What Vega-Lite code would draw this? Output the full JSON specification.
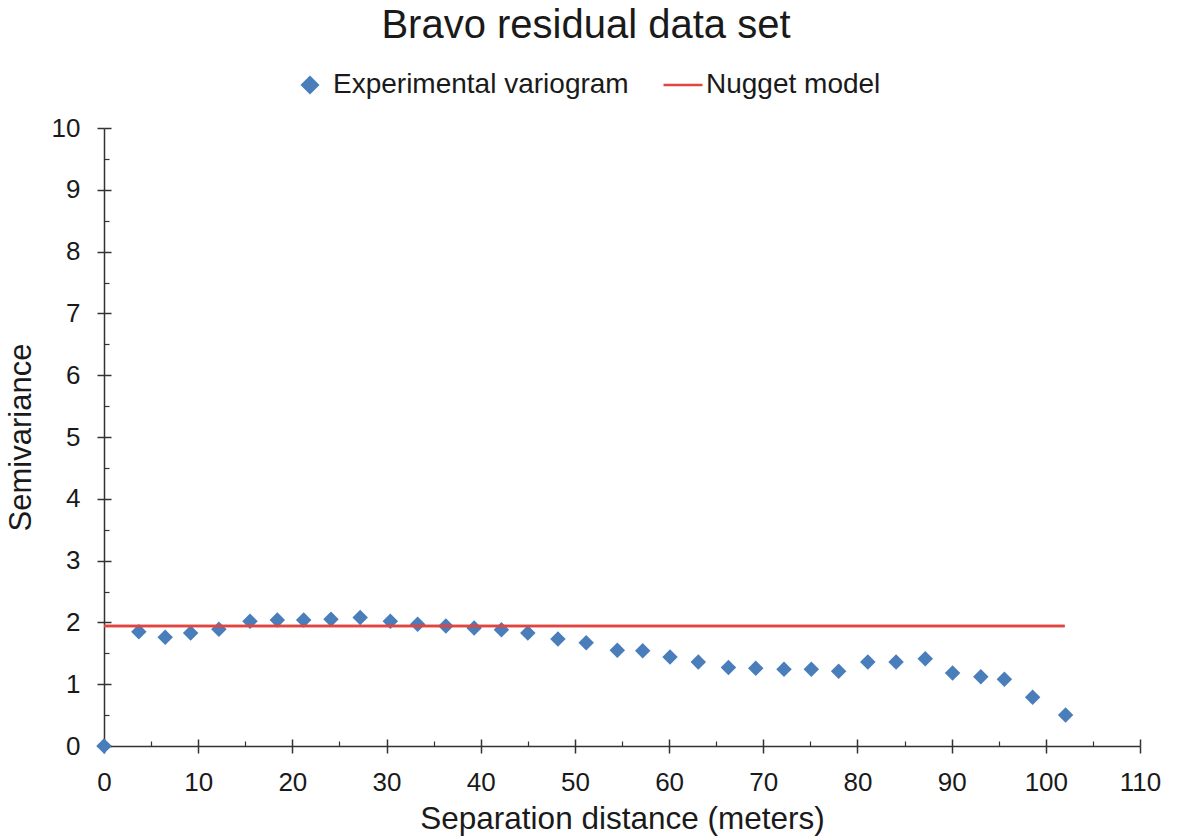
{
  "$schema": "https://vega.github.io/schema/vega-lite/v6.json",
  "width": 1036,
  "height": 618,
  "autosize": "none",
  "padding": {"left": 104, "top": 128, "right": 37, "bottom": 93},
  "background": "white",
  "config": {
    "font": "Liberation Sans",
    "view": {"stroke": null},
    "axis": {"grid": false}
  },
  "title": {
    "text": "Bravo residual data set",
    "fontSize": 40,
    "fontWeight": "normal",
    "color": "#1a1a1a",
    "anchor": "middle",
    "frame": "group",
    "dx": -36,
    "offset": 25
  },
  "datasets": {
    "experimental": [
      {"distance": 0, "semivariance": 0, "series": "Experimental variogram"},
      {"distance": 3.7, "semivariance": 1.85, "series": "Experimental variogram"},
      {"distance": 6.5, "semivariance": 1.76, "series": "Experimental variogram"},
      {"distance": 9.2, "semivariance": 1.83, "series": "Experimental variogram"},
      {"distance": 12.2, "semivariance": 1.89, "series": "Experimental variogram"},
      {"distance": 15.5, "semivariance": 2.02, "series": "Experimental variogram"},
      {"distance": 18.4, "semivariance": 2.04, "series": "Experimental variogram"},
      {"distance": 21.2, "semivariance": 2.04, "series": "Experimental variogram"},
      {"distance": 24.1, "semivariance": 2.05, "series": "Experimental variogram"},
      {"distance": 27.2, "semivariance": 2.08, "series": "Experimental variogram"},
      {"distance": 30.4, "semivariance": 2.02, "series": "Experimental variogram"},
      {"distance": 33.3, "semivariance": 1.97, "series": "Experimental variogram"},
      {"distance": 36.3, "semivariance": 1.94, "series": "Experimental variogram"},
      {"distance": 39.3, "semivariance": 1.91, "series": "Experimental variogram"},
      {"distance": 42.2, "semivariance": 1.88, "series": "Experimental variogram"},
      {"distance": 45.0, "semivariance": 1.83, "series": "Experimental variogram"},
      {"distance": 48.2, "semivariance": 1.73, "series": "Experimental variogram"},
      {"distance": 51.2, "semivariance": 1.67, "series": "Experimental variogram"},
      {"distance": 54.5, "semivariance": 1.55, "series": "Experimental variogram"},
      {"distance": 57.2, "semivariance": 1.54, "series": "Experimental variogram"},
      {"distance": 60.1, "semivariance": 1.44, "series": "Experimental variogram"},
      {"distance": 63.1, "semivariance": 1.36, "series": "Experimental variogram"},
      {"distance": 66.3, "semivariance": 1.27, "series": "Experimental variogram"},
      {"distance": 69.2, "semivariance": 1.26, "series": "Experimental variogram"},
      {"distance": 72.2, "semivariance": 1.24, "series": "Experimental variogram"},
      {"distance": 75.1, "semivariance": 1.24, "series": "Experimental variogram"},
      {"distance": 78.0, "semivariance": 1.21, "series": "Experimental variogram"},
      {"distance": 81.1, "semivariance": 1.36, "series": "Experimental variogram"},
      {"distance": 84.1, "semivariance": 1.36, "series": "Experimental variogram"},
      {"distance": 87.2, "semivariance": 1.41, "series": "Experimental variogram"},
      {"distance": 90.1, "semivariance": 1.18, "series": "Experimental variogram"},
      {"distance": 93.1, "semivariance": 1.12, "series": "Experimental variogram"},
      {"distance": 95.6, "semivariance": 1.08, "series": "Experimental variogram"},
      {"distance": 98.6, "semivariance": 0.79, "series": "Experimental variogram"},
      {"distance": 102.1, "semivariance": 0.5, "series": "Experimental variogram"}
    ],
    "nugget": [
      {"distance": 0, "semivariance": 1.94, "series": "Nugget model"},
      {"distance": 102, "semivariance": 1.94, "series": "Nugget model"}
    ]
  },
  "encoding": {
    "color": {
      "field": "series",
      "type": "nominal",
      "scale": {"domain": ["Experimental variogram", "Nugget model"], "range": ["#4a7ebb", "#e0463f"]},
      "legend": {
        "orient": "none",
        "legendX": 192,
        "legendY": -57,
        "direction": "horizontal",
        "title": null,
        "padding": 0,
        "symbolSize": 1521,
        "labelOffset": 9,
        "columnPadding": 29,
        "labelFontSize": 28,
        "labelColor": "#1a1a1a",
        "labelLimit": 0,
        "encode": {
          "symbols": {
            "update": {
              "shape": {"signal": "datum.value === 'Nugget model' ? 'stroke' : 'diamond'"},
              "size": {"signal": "datum.value === 'Nugget model' ? 1521 : 240"},
              "fill": {"signal": "datum.value === 'Nugget model' ? 'transparent' : '#4a7ebb'"},
              "stroke": {"signal": "datum.value === 'Nugget model' ? '#e0463f' : 'transparent'"},
              "strokeWidth": {"value": 2.5},
              "opacity": {"value": 1}
            }
          }
        }
      }
    }
  },
  "resolve": {"axis": {"x": "independent", "y": "independent"}},
  "layer": [
    {
      "data": {"name": "experimental"},
      "mark": {"type": "point", "shape": "diamond", "filled": true, "size": 240, "opacity": 1, "clip": false},
      "encoding": {
        "x": {
          "field": "distance", "type": "quantitative",
          "scale": {"domain": [0, 110], "nice": false, "zero": false},
          "axis": {
            "orient": "bottom",
            "title": "Separation distance (meters)",
            "titleFontSize": 31.5,
            "titleFontWeight": "normal",
            "titleColor": "#1a1a1a",
            "titlePadding": 8,
            "values": [0, 10, 20, 30, 40, 50, 60, 70, 80, 90, 100, 110],
            "labelFontSize": 26,
            "labelColor": "#1a1a1a",
            "labelPadding": 16,
            "labelFlush": false,
            "labelOverlap": false,
            "tickSize": 7,
            "tickColor": "#333333",
            "tickWidth": 1.5,
            "domainColor": "#333333",
            "domainWidth": 1.5
          }
        },
        "y": {
          "field": "semivariance", "type": "quantitative",
          "scale": {"domain": [0, 10], "nice": false, "zero": false},
          "axis": {
            "orient": "left",
            "title": "Semivariance",
            "titleFontSize": 31,
            "titleFontWeight": "normal",
            "titleColor": "#1a1a1a",
            "titlePadding": 14,
            "values": [0, 1, 2, 3, 4, 5, 6, 7, 8, 9, 10],
            "labelFontSize": 26,
            "labelColor": "#1a1a1a",
            "labelPadding": 17,
            "labelFlush": false,
            "labelOverlap": false,
            "tickSize": 7,
            "tickColor": "#333333",
            "tickWidth": 1.5,
            "domainColor": "#333333",
            "domainWidth": 1.5
          }
        }
      }
    },
    {
      "data": {"name": "nugget"},
      "mark": {"type": "line", "strokeWidth": 2.5},
      "encoding": {
        "x": {
          "field": "distance", "type": "quantitative",
          "axis": {
            "orient": "bottom", "title": null, "labels": false, "domain": false,
            "values": [0, 10, 20, 30, 40, 50, 60, 70, 80, 90, 100, 110],
            "tickSize": -7, "tickColor": "#333333", "tickWidth": 1.5
          }
        },
        "y": {
          "field": "semivariance", "type": "quantitative",
          "axis": {
            "orient": "left", "title": null, "labels": false, "domain": false,
            "values": [0, 1, 2, 3, 4, 5, 6, 7, 8, 9, 10],
            "tickSize": -7, "tickColor": "#333333", "tickWidth": 1.5
          }
        }
      }
    },
    {
      "data": {"name": "nugget"},
      "mark": {"type": "line", "strokeWidth": 2.5},
      "encoding": {
        "x": {
          "field": "distance", "type": "quantitative",
          "axis": {
            "orient": "bottom", "title": null, "labels": false, "domain": false,
            "values": [5, 15, 25, 35, 45, 55, 65, 75, 85, 95, 105],
            "tickSize": -5, "tickColor": "#333333", "tickWidth": 1.2
          }
        },
        "y": {
          "field": "semivariance", "type": "quantitative",
          "axis": {
            "orient": "left", "title": null, "labels": false, "domain": false,
            "values": [0.5, 1.5, 2.5, 3.5, 4.5, 5.5, 6.5, 7.5, 8.5, 9.5],
            "tickSize": -5, "tickColor": "#333333", "tickWidth": 1.2
          }
        }
      }
    }
  ]
}
